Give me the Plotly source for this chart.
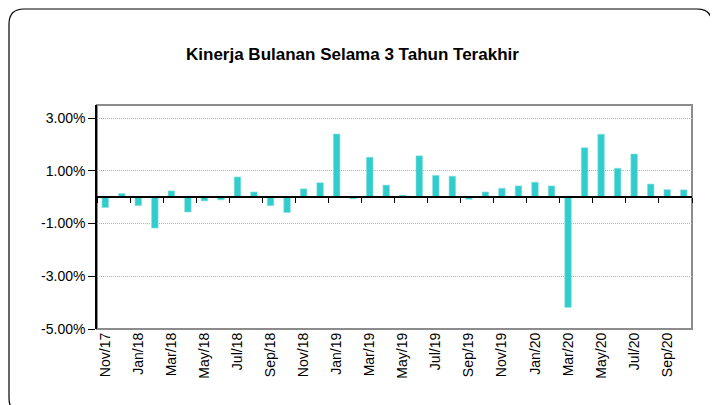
import plotly.graph_objects as go

# monthly returns, Nov/17 .. Oct/20 (%)
months = ["Nov/17", "Dec/17", "Jan/18", "Feb/18", "Mar/18", "Apr/18", "May/18", "Jun/18",
          "Jul/18", "Aug/18", "Sep/18", "Oct/18", "Nov/18", "Dec/18", "Jan/19", "Feb/19",
          "Mar/19", "Apr/19", "May/19", "Jun/19", "Jul/19", "Aug/19", "Sep/19", "Oct/19",
          "Nov/19", "Dec/19", "Jan/20", "Feb/20", "Mar/20", "Apr/20", "May/20", "Jun/20",
          "Jul/20", "Aug/20", "Sep/20", "Oct/20"]
returns = [-0.39, 0.14, -0.32, -1.17, 0.24, -0.56, -0.14, -0.10,
           0.77, 0.20, -0.32, -0.58, 0.32, 0.55, 2.40, -0.06,
           1.52, 0.46, 0.08, 1.57, 0.83, 0.80, -0.08, 0.20,
           0.34, 0.43, 0.57, 0.43, -4.18, 1.88, 2.39, 1.10,
           1.64, 0.50, 0.29, 0.28]
y_ticks = [-5, -3, -1, 1, 3]
y_min, y_max = -5, 3.5

# page body has an 8px margin, so screen px = figure px + 8
OFF = 8
W, H = 718, 405
L, T = 97 - OFF, 105 - OFF
R = W - (692 - OFF)
B = H - (329 - OFF)
pw, ph = W - L - R, H - T - B


def px(x):
    return (x - OFF - L) / pw


def py(y):
    return (H - B - (y - OFF)) / ph


x = list(range(len(months)))
label_pos = x[::2]

fig = go.Figure()
fig.add_trace(go.Bar(
    x=x, y=returns, width=0.4,
    marker=dict(color="#33CCCC", line=dict(color="#8FE3E3", width=0.6)),
    hovertemplate="%{customdata}: %{y:.2f}%<extra></extra>",
    customdata=months,
))

# rounded outer frame (its left/top edge sits just inside the figure)
x0, x1, y0, y1 = px(OFF + 1), px(712), py(OFF + 1), py(413)
r, ry = 15 / pw, 15 / ph
path = (f"M {x0 + r},{y0} L {x1 - r},{y0} Q {x1},{y0} {x1},{y0 - ry} "
        f"L {x1},{y1 + ry} Q {x1},{y1} {x1 - r},{y1} L {x0 + r},{y1} "
        f"Q {x0},{y1} {x0},{y1 + ry} L {x0},{y0 - ry} Q {x0},{y0} {x0 + r},{y0} Z")
fig.add_shape(type="path", path=path, xref="paper", yref="paper",
              line=dict(color="black", width=1.2), layer="below")
# plot area frame
fig.add_shape(type="rect", xref="paper", yref="paper", x0=0, x1=1, y0=0, y1=1,
              line=dict(color="#8c8c8c", width=2), layer="below")

fig.add_annotation(text="<b>Kinerja Bulanan Selama 3 Tahun Terakhir</b>",
                   xref="paper", yref="paper", x=px(352), y=py(43),
                   showarrow=False, font=dict(size=17, color="black"))

fig.update_layout(
    width=W, height=H,
    margin=dict(l=L, r=R, t=T, b=B),
    paper_bgcolor="white", plot_bgcolor="white",
    font=dict(family="Liberation Sans, Arial", color="black"),
    showlegend=False,
    xaxis=dict(
        range=[-0.5, len(months) - 0.5],
        tickvals=label_pos, ticktext=[months[i] for i in label_pos],
        tickangle=-90, ticks="", tickfont=dict(size=14),
        showgrid=False, zeroline=False, showline=False,
    ),
    xaxis2=dict(
        overlaying="x", matches="x", anchor="free",
        position=(0 - y_min) / (y_max - y_min),
        showline=True, linecolor="black", linewidth=1.5,
        showticklabels=False, ticks="", showgrid=False, zeroline=False,
        minor=dict(ticks="outside", tick0=1.5, dtick=2, ticklen=5,
                   tickcolor="black", tickwidth=1, showgrid=False),
    ),
    yaxis=dict(
        range=[y_min, y_max], tickvals=y_ticks,
        ticktext=[f"{v:.2f}%" for v in y_ticks],
        ticks="outside", ticklen=7, tickcolor="black", tickfont=dict(size=14),
        showline=True, linecolor="black", linewidth=1.5,
        showgrid=True, gridcolor="#b0b0b0", griddash="1px,1px", gridwidth=1,
        zeroline=False,
    ),
)
# invisible point so the zero axis is drawn
fig.add_trace(go.Scatter(x=[x[0]], y=[0], xaxis="x2", mode="markers",
                         marker=dict(opacity=0), hoverinfo="skip"))

fig.write_html("out.html")
